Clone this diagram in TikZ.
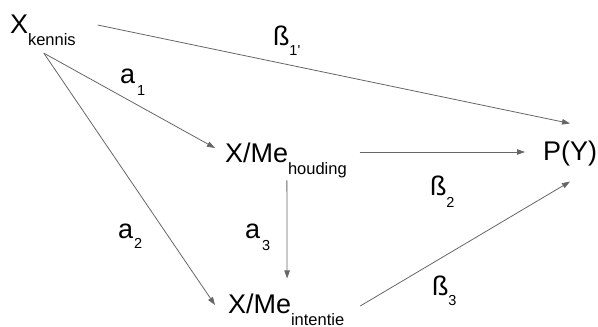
\documentclass[tikz,border=0pt]{standalone}
\usepackage{fontspec}
\setmainfont{Liberation Sans}
\usetikzlibrary{arrows.meta}
\newcommand{\bigsub}[1]{\raisebox{-12pt}{\fontsize{16.5}{18}\selectfont #1}}
\newcommand{\labsub}[2]{\raisebox{-#2}{\fontsize{14.5}{16}\selectfont #1}}
\begin{document}
\begin{tikzpicture}[x=1pt,y=1pt,
  every node/.style={inner sep=0pt, outer sep=0pt, font=\fontsize{27}{30}\selectfont, anchor=base west},
  conn/.style={draw=black!60, line width=0.8pt, -{Triangle[length=8pt,width=5.5pt]}}]
\useasboundingbox (0,0) rectangle (598,-327);
% main nodes
\node (xk) at (10,-33) {X\bigsub{kennis}};
\node (hou) at (225,-162) {X/Me\bigsub{houding}};
\node (int) at (228,-313) {X/Me\bigsub{intentie}};
\node (py) at (543,-160) {P(Y)};
% labels
\node (b1) at (273,-45) {ß\labsub{1\textquotesingle}{10pt}};
\node (a1) at (120,-83) {a\kern2pt\labsub{1}{12pt}};
\node (a2) at (118,-238) {a\kern1pt\labsub{2}{10pt}};
\node (a3) at (245,-238) {a\kern2pt\labsub{3}{12pt}};
\node (b2) at (430,-195) {ß\labsub{2}{12pt}};
\node (b3) at (432,-295) {ß\labsub{3}{10pt}};
% connectors
\draw[conn] ([shift={(22,8)}]xk.base east) -- ([yshift=17]py.north);
\draw[conn] ([shift={(1,-8)}]xk.south) -- ([shift={(-10,14)}]hou.base west);
\draw[conn] ([shift={(1,-8)}]xk.south) -- ([shift={(-13,8)}]int.base west);
\draw[conn] ([shift={(13,10)}]hou.base east) -- ([shift={(-18,8)}]py.base west);
\draw[conn] ([shift={(1,-3)}]hou.south) -- ([shift={(1,15)}]int.north);
\draw[conn] ([shift={(16,7)}]int.base east) -- ([yshift=-16]py.south);
\end{tikzpicture}
\end{document}
